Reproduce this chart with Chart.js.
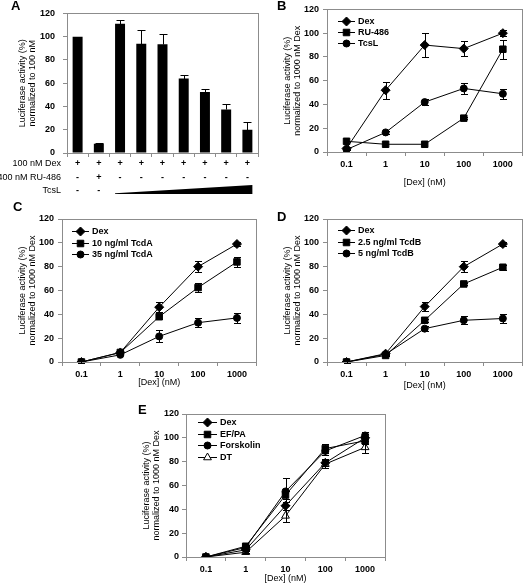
<!DOCTYPE html>
<html>
<head>
<meta charset="utf-8">
<script src="https://cdn.jsdelivr.net/npm/chart.js@4.4.1/dist/chart.umd.min.js"></script>
<style>
  html, body { margin: 0; padding: 0; background: #fff; }
  #fig { position: relative; width: 528px; height: 583px; overflow: hidden; }
  canvas { position: absolute; }
  .lbl { position: absolute; font: bold 13px "Liberation Sans", Arial, sans-serif; line-height: 1; color: #000; }
</style>
</head>
<body>
<div id="fig">
  <canvas id="cA" width="262" height="200" style="left:0px;top:0px"></canvas>
  <canvas id="cB" width="266" height="200" style="left:262px;top:0px"></canvas>
  <canvas id="cC" width="262" height="195" style="left:0px;top:200px"></canvas>
  <canvas id="cD" width="266" height="195" style="left:262px;top:200px"></canvas>
  <canvas id="cE" width="270" height="183" style="left:130px;top:400px"></canvas>
  <div class="lbl" style="left:11px;top:-1px">A</div>
  <div class="lbl" style="left:277px;top:-1px">B</div>
  <div class="lbl" style="left:13px;top:200px">C</div>
  <div class="lbl" style="left:277px;top:210px">D</div>
  <div class="lbl" style="left:138px;top:403px">E</div>
</div>
<script>
// ---- data ----
const doses = ['0.1', '1', '10', '100', '1000'];

// panel A
const aRowNames = ['100 nM Dex', '400 nM RU-486', 'TcsL'];
const aDex = ['+', '+', '+', '+', '+', '+', '+', '+', '+'];
const aRU = ['-', '+', '-', '-', '-', '-', '-', '-', '-'];
const aTcsL = ['-', '-', '', '', '', '', '', '', ''];
const aValues = [100, 8, 111, 94, 93.5, 64, 52.5, 37.5, 20];
const aErrors = [0, 1, 3, 12, 8.5, 3, 2.5, 5, 7];

// panel B
const bDex = [3, 52, 90, 87, 100];
const bDexErr = [1, 7, 10, 6, 2.5];
const bRU = [9, 6.5, 6.5, 28.5, 86.5];
const bRUErr = [0, 0, 0, 1, 8];
const bTcsL = [2, 16.5, 42, 53.5, 49];
const bTcsLErr = [0.5, 1, 2.5, 4.5, 4];

// panel C
const cDex = [0, 8, 46, 80, 99];
const cDexErr = [0.5, 1, 4, 4.5, 1.5];
const cTcdA10 = [0, 8, 38, 62.5, 84];
const cTcdA10Err = [0, 1, 2, 3.5, 4.5];
const cTcdA35 = [0, 6, 21.5, 33, 37];
const cTcdA35Err = [0, 0.5, 5, 4, 4.5];

// panel D
const dDex = [0, 7, 46.5, 80, 99];
const dDexErr = [0.5, 1, 4, 4.5, 1.5];
const dTcdB25 = [0, 5.5, 35, 65.5, 79.5];
const dTcdB25Err = [0, 0.5, 1.5, 1, 2];
const dTcdB5 = [0, 6.5, 28, 35, 36.5];
const dTcdB5Err = [0, 0.5, 2, 3.5, 4];

// panel E
const eDex = [0, 6, 43, 79, 100];
const eDexErr = [0, 1, 3.5, 3, 3];
const eEFPA = [0, 9, 52, 91, 97.5];
const eEFPAErr = [0, 1, 3, 3.5, 3];
const eForsk = [0, 8, 55, 89, 102];
const eForskErr = [0, 1, 11, 3.5, 3];
const eDT = [0, 4, 34.5, 78, 92];
const eDTErr = [0, 1, 5, 3, 5];

// ---- styling helpers ----
const grey = '#8c8c8c';
const fontFam = '"Liberation Sans", Arial, sans-serif';
Chart.defaults.font.family = fontFam;
Chart.defaults.color = '#000';

// grey box round the plot area
const framePlugin = {
  id: 'frame',
  beforeDatasetsDraw(chart) {
    const a = chart.chartArea, ctx = chart.ctx;
    ctx.save();
    ctx.strokeStyle = grey;
    ctx.lineWidth = 1;
    ctx.strokeRect(Math.round(a.left) + 0.5, Math.round(a.top) + 0.5,
      Math.round(a.right - a.left), Math.round(a.bottom - a.top));
    ctx.restore();
  }
};

// error bars from dataset.errors
const errorPlugin = {
  id: 'errorBars',
  afterDatasetsDraw(chart) {
    const ctx = chart.ctx, ys = chart.scales.y;
    chart.data.datasets.forEach((ds, i) => {
      if (!ds.errors) return;
      const meta = chart.getDatasetMeta(i);
      ctx.save();
      ctx.strokeStyle = '#000';
      ctx.lineWidth = 1;
      meta.data.forEach((el, j) => {
        const e = ds.errors[j];
        if (!e) return;
        const v = ds.data[j];
        const x = Math.round(el.x) + 0.5;
        const top = Math.round(ys.getPixelForValue(v + e)) + 0.5;
        const bot = Math.round(ys.getPixelForValue(ds.upOnly ? v : v - e)) + 0.5;
        const w = ds.capWidth || 3.5;
        ctx.beginPath();
        ctx.moveTo(x, top); ctx.lineTo(x, bot);
        ctx.moveTo(x - w, top); ctx.lineTo(x + w, top);
        if (!ds.upOnly) { ctx.moveTo(x - w, bot); ctx.lineTo(x + w, bot); }
        ctx.stroke();
      });
      ctx.restore();
    });
  }
};

// legend drawn inside the plot area, top left
const legendPlugin = {
  id: 'insideLegend',
  afterDraw(chart, args, opts) {
    if (!opts || opts.dx === undefined) return;
    const ctx = chart.ctx, a = chart.chartArea;
    ctx.save();
    chart.data.datasets.forEach((ds, i) => {
      const y = Math.round(a.top + opts.dy + i * opts.step) + 0.5;
      const x0 = a.left + opts.dx, x1 = x0 + opts.len;
      ctx.strokeStyle = '#000';
      ctx.lineWidth = 1;
      ctx.beginPath(); ctx.moveTo(x0, y); ctx.lineTo(x1, y); ctx.stroke();
      ctx.fillStyle = ds.pointBackgroundColor;
      Chart.helpers.drawPoint(ctx, { pointStyle: ds.pointStyle, radius: ds.pointRadius, borderWidth: 1, rotation: 0 },
        (x0 + x1) / 2, y);
      ctx.fillStyle = '#000';
      ctx.font = 'bold 9px ' + fontFam;
      ctx.textAlign = 'left';
      ctx.textBaseline = 'middle';
      ctx.fillText(ds.label, x1 + 3, y);
    });
    ctx.restore();
  }
};

// row names and TcsL wedge under panel A
const tablePlugin = {
  id: 'aTable',
  afterDraw(chart) {
    const ctx = chart.ctx, xs = chart.scales.x, a = chart.chartArea;
    ctx.save();
    ctx.fillStyle = '#000';
    ctx.font = '9px ' + fontFam;
    ctx.textAlign = 'right';
    ctx.textBaseline = 'middle';
    aRowNames.forEach((n, r) => ctx.fillText(n, 61, a.bottom + 11 + r * 13.5));
    const x0 = xs.getPixelForValue(2) - 5, x1 = xs.getPixelForValue(8) + 5;
    const yb = a.bottom + 41, yt = a.bottom + 32;
    ctx.beginPath();
    ctx.moveTo(x0, yb - 0.8);
    ctx.lineTo(x1, yt);
    ctx.lineTo(x1, yb);
    ctx.lineTo(x0, yb);
    ctx.closePath();
    ctx.fill();
    ctx.restore();
  }
};

function yAxis(width, titleLines, titlePad, tickPad) {
  return {
    min: 0, max: 120,
    ticks: { stepSize: 20, font: { size: 9, weight: 'bold' }, padding: tickPad, color: '#000' },
    grid: { drawOnChartArea: false, tickLength: 4, color: grey },
    border: { color: grey },
    title: { display: true, text: titleLines, color: '#000',
      font: { size: 9, lineHeight: 1.1 }, padding: { top: titlePad, bottom: 0 } },
    afterFit(s) { s.width = width; }
  };
}

function xAxis(height, titlePad) {
  return {
    type: 'category', offset: true,
    ticks: { font: { size: 9, weight: 'bold' }, padding: 3, color: '#000', maxRotation: 0, autoSkip: false },
    grid: { offset: true, drawOnChartArea: false, tickLength: 4, color: grey },
    border: { color: grey },
    title: { display: true, text: '[Dex] (nM)', color: '#000',
      font: { size: 9, lineHeight: 1.1 }, padding: { top: 0, bottom: titlePad } },
    afterFit(s) { s.height = height; }
  };
}

function series(label, data, errors, style) {
  const m = {
    diamond: { pointStyle: 'rectRot', pointRadius: 4.5, fill: '#000' },
    square: { pointStyle: 'rect', pointRadius: 4.6, fill: '#000' },
    circle: { pointStyle: 'circle', pointRadius: 3.5, fill: '#000' },
    triangle: { pointStyle: 'triangle', pointRadius: 4.5, fill: '#fff' }
  }[style];
  return {
    label: label, data: data, errors: errors,
    borderColor: '#000', borderWidth: 1, tension: 0,
    pointStyle: m.pointStyle, pointRadius: m.pointRadius,
    pointBackgroundColor: m.fill, pointBorderColor: '#000', pointBorderWidth: 1
  };
}

function linePanel(id, geo, datasets, legend) {
  new Chart(document.getElementById(id), {
    type: 'line',
    data: { labels: doses, datasets: datasets },
    options: {
      responsive: false, animation: false, devicePixelRatio: 1,
      layout: { padding: { top: geo.top, right: geo.right, left: 0, bottom: 0 } },
      plugins: { legend: { display: false }, tooltip: { enabled: false }, insideLegend: legend },
      scales: {
        x: xAxis(geo.xh, geo.xTitlePad),
        y: yAxis(geo.yw, ['Luciferase activity (%)', 'normalized to 1000 nM Dex'], geo.yTitlePad, geo.yTickPad)
      }
    },
    plugins: [framePlugin, errorPlugin, legendPlugin]
  });
}

// ---- panel A ----
new Chart(document.getElementById('cA'), {
  type: 'bar',
  data: {
    labels: aDex.map((d, i) => [d, aRU[i], aTcsL[i]]),
    datasets: [{
      data: aValues, errors: aErrors, upOnly: true, capWidth: 4,
      backgroundColor: '#000', borderWidth: 0,
      barPercentage: 0.47, categoryPercentage: 1
    }]
  },
  options: {
    responsive: false, animation: false, devicePixelRatio: 1,
    layout: { padding: { top: 9, right: 4, left: 0, bottom: 0 } },
    plugins: { legend: { display: false }, tooltip: { enabled: false } },
    scales: {
      x: {
        ticks: { font: { size: 9, weight: 'bold', lineHeight: 1.5 }, padding: 0, color: '#000', maxRotation: 0, autoSkip: false },
        grid: { offset: true, drawOnChartArea: false, tickLength: 4, color: grey },
        border: { color: grey },
        afterFit(s) { s.height = 47; }
      },
      y: yAxis(67, ['Luciferase activity (%)', 'normalized to 100 nM'], 18, 8)
    }
  },
  plugins: [framePlugin, errorPlugin, tablePlugin]
});

// ---- panel B ----
linePanel('cB', { top: 9, right: 1, xh: 48, yw: 65, xTitlePad: 13, yTitlePad: 21, yTickPad: 4 }, [
  series('Dex', bDex, bDexErr, 'diamond'),
  series('RU-486', bRU, bRUErr, 'square'),
  series('TcsL', bTcsL, bTcsLErr, 'circle')
], { dx: 11, dy: 12, step: 11, len: 17 });

// ---- panel C ----
linePanel('cC', { top: 19, right: 3, xh: 33, yw: 62, xTitlePad: 8, yTitlePad: 18, yTickPad: 4 }, [
  series('Dex', cDex, cDexErr, 'diamond'),
  series('10 ng/ml TcdA', cTcdA10, cTcdA10Err, 'square'),
  series('35 ng/ml TcdA', cTcdA35, cTcdA35Err, 'circle')
], { dx: 10, dy: 12, step: 11.5, len: 17 });

// ---- panel D ----
linePanel('cD', { top: 19, right: 1, xh: 33, yw: 65, xTitlePad: 5, yTitlePad: 21, yTickPad: 4 }, [
  series('Dex', dDex, dDexErr, 'diamond'),
  series('2.5 ng/ml TcdB', dTcdB25, dTcdB25Err, 'square'),
  series('5 ng/ml TcdB', dTcdB5, dTcdB5Err, 'circle')
], { dx: 11, dy: 11, step: 11.5, len: 17 });

// ---- panel E ----
linePanel('cE', { top: 14, right: 15, xh: 26, yw: 56, xTitlePad: 0, yTitlePad: 12, yTickPad: 3 }, [
  series('Dex', eDex, eDexErr, 'diamond'),
  series('EF/PA', eEFPA, eEFPAErr, 'square'),
  series('Forskolin', eForsk, eForskErr, 'circle'),
  series('DT', eDT, eDTErr, 'triangle')
], { dx: 12, dy: 8, step: 11.7, len: 19 });
</script>
</body>
</html>
